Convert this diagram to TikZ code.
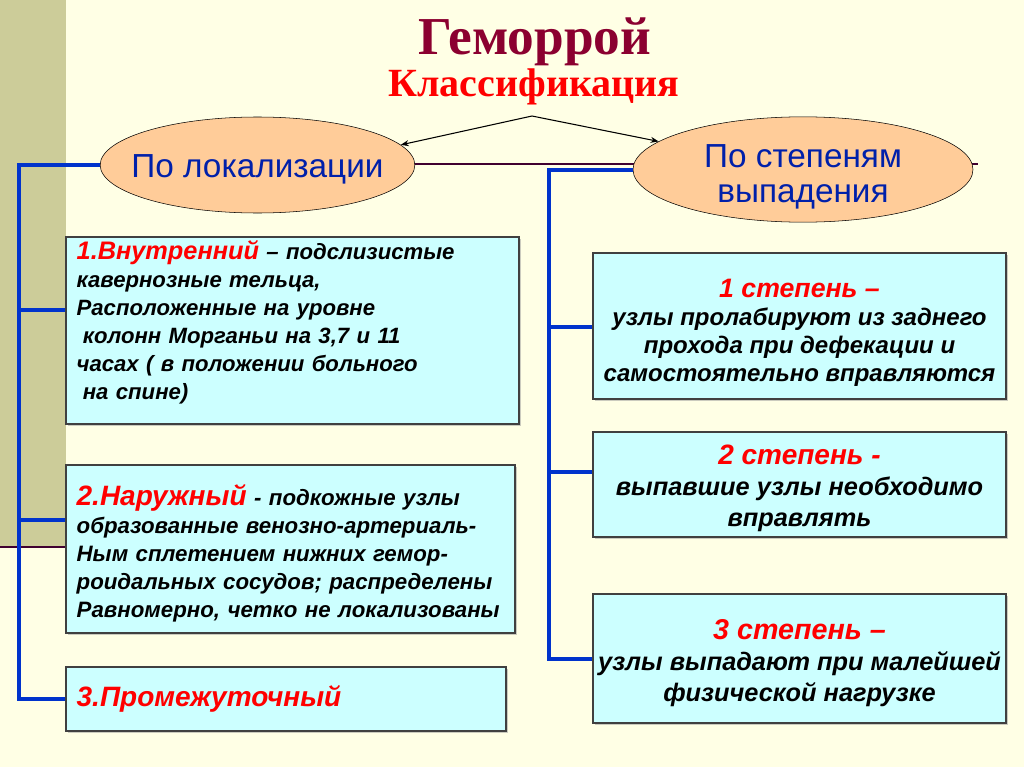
\documentclass[tikz,border=0pt]{standalone}
\usepackage{fontspec}
\setmainfont{Liberation Sans}
\newfontfamily\titlefont{Liberation Serif}
\usetikzlibrary{shapes.geometric,arrows.meta,shadows}

\definecolor{slidebg}{RGB}{255,255,229}
\definecolor{stripcol}{RGB}{204,204,153}
\definecolor{barcol}{RGB}{64,0,48}
\definecolor{buscol}{RGB}{0,51,204}
\definecolor{boxcol}{RGB}{204,255,255}
\definecolor{ovalcol}{RGB}{255,204,153}
\definecolor{ovaltext}{RGB}{0,32,170}
\definecolor{titlecol}{RGB}{139,0,48}
\definecolor{redtext}{RGB}{255,0,0}

\begin{document}
\begin{tikzpicture}[x=0.75pt, y=-0.75pt]
        % Define styles
        \tikzset{
            oval/.style={draw, ellipse, fill=ovalcol, inner xsep=-20pt, inner ysep=-6pt, text=ovaltext, align=center, font=\fontsize{25}{26.5}\selectfont},
            infobox/.style={draw=black!75, rectangle, fill=boxcol, line width=0.8pt, drop shadow={shadow xshift=1.5pt, shadow yshift=-1.5pt, fill=black!40}},
            leftbox/.style={infobox, align=left, inner xsep=8pt, inner ysep=0pt, font=\bfseries\itshape\fontsize{16.6}{21}\selectfont},
            rightbox/.style={infobox, align=center, inner xsep=0pt, minimum width=309.75pt, font=\bfseries\itshape\fontsize{19}{23.25}\selectfont},
            bus/.style={draw=buscol, line width=3pt},
            arrow/.style={-{Stealth[length=6pt,width=4.5pt]}, line width=0.8pt}
        }
        \useasboundingbox (0,0) rectangle (1024,767);

        % Slide background
        \fill[slidebg] (0,0) rectangle (1024,767);
        \fill[stripcol] (0,0) rectangle (66,547);
        \draw[barcol, line width=2.2pt] (0,547) -- (66,547);
        \draw[barcol, line width=1.5pt] (66,164) -- (978,164);

        % Place nodes
        \node[anchor=base, text=titlecol, font=\titlefont\bfseries\fontsize{40}{44}\selectfont] (title) at (535,55) {Геморрой};
        \node[anchor=base, text=redtext, font=\titlefont\bfseries\fontsize{30}{34}\selectfont] (subtitle) at (534,97) {Классификация};
        \coordinate (split) at (532,116);

        \node[oval, minimum width=236pt, minimum height=72pt] (lokal) at (257.5,165) {\rule{0pt}{24pt}По локализации};
        \node[oval, minimum width=255pt, minimum height=79pt] (stepen) at (803,169.5) {\rule{0pt}{28pt}По степеням\\выпадения};

        \node[leftbox, minimum height=140.25pt, text width=323.75pt] (vnutr) at (292.5,330.5)
            {{\fontsize{19}{21}\selectfont\textcolor{redtext}{1.Внутренний}} – подслизистые\\
             кавернозные тельца,\\
             Расположенные на уровне\\
             \hspace*{.28em}колонн Морганьи на 3,7 и 11\\
             часах ( в положении больного\\
             \hspace*{.28em}на спине)\rule[-16pt]{0pt}{16pt}};
        \node[leftbox, minimum height=126pt, text width=320.75pt, font=\bfseries\itshape\fontsize{16.7}{21}\selectfont] (naruzh) at (290.5,549)
            {\rule{0pt}{21.5pt}{\fontsize{21}{21}\selectfont\textcolor{redtext}{2.Наружный}} - подкожные узлы\\
             образованные венозно-артериаль-\\
             Ным сплетением нижних гемор-\\
             роидальных сосудов; распределены\\
             \mbox{Равномерно, четко не локализованы}};
        \node[leftbox, minimum height=48pt, text width=314pt, text=redtext, font=\bfseries\itshape\fontsize{21}{24}\selectfont] (promezh) at (286,699)
            {3.Промежуточный};

        \node[rightbox, minimum height=109.5pt, font=\bfseries\itshape\fontsize{18}{21}\selectfont] (st1) at (799.5,326)
            {\rule{0pt}{24pt}{\fontsize{20}{21}\selectfont\textcolor{redtext}{1 степень –}}\\
             узлы пролабируют из заднего\\
             прохода при дефекации и\\
             самостоятельно вправляются};
        \node[rightbox, minimum height=78.75pt] (st2) at (799.5,484.5)
            {\rule{0pt}{20.5pt}{\fontsize{21}{21}\selectfont\textcolor{redtext}{2 степень -}}\\
             выпавшие узлы необходимо\\
             вправлять};
        \node[rightbox, minimum height=96.75pt] (st3) at (799.5,658.5)
            {\rule{0pt}{22pt}{\fontsize{21.5}{21}\selectfont\textcolor{redtext}{3 степень –}}\\
             узлы выпадают при малейшей\\
             физической нагрузке};

        % Draw arrows
        \draw[arrow] (split) -- (lokal.8);
        \draw[arrow] (split) -- (stepen.169);

        % Draw buses
        \coordinate (lbus) at (19,165);
        \coordinate (lb1) at (19,310);
        \coordinate (lb2) at (19,520);
        \draw[bus] (lokal.west) -- (lbus) |- (promezh.west);
        \draw[bus] (lb1) -- (lb1 -| vnutr.west);
        \draw[bus] (lb2) -- (lb2 -| naruzh.west);

        \coordinate (rbus) at (549,169.5);
        \coordinate (rb1) at (549,327);
        \coordinate (rb2) at (549,472);
        \draw[bus] (stepen.west) -- (rbus) |- (st3.west);
        \draw[bus] (rb1) -- (rb1 -| st1.west);
        \draw[bus] (rb2) -- (rb2 -| st2.west);
\end{tikzpicture}
\end{document}
